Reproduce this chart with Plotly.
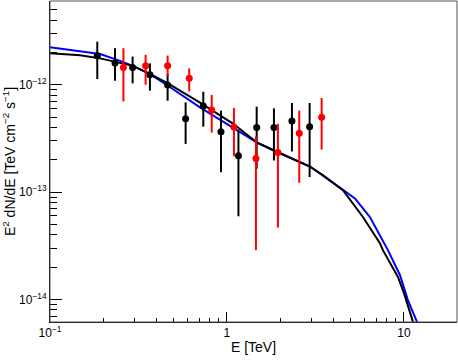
import plotly.graph_objects as go

# black data points: energy [TeV], E^2 dN/dE, upper and lower error bar ends
black_e = [0.185, 0.233, 0.293, 0.367, 0.462, 0.584, 0.735, 0.925, 1.161, 1.472, 1.843, 2.329, 2.932]
black_f = [1.86e-12, 1.59e-12, 1.45e-12, 1.24e-12, 9.94e-13, 4.83e-13, 6.34e-13, 3.64e-13,
           2.18e-13, 3.99e-13, 3.99e-13, 4.60e-13, 4.07e-13]
black_hi = [2.52e-12, 2.19e-12, 1.83e-12, 1.58e-12, 1.26e-12, 6.85e-13, 8.61e-13, 5.74e-13,
            3.80e-13, 6.25e-13, 6.02e-13, 6.76e-13, 6.76e-13]
black_lo = [1.13e-12, 1.09e-12, 1.03e-12, 8.80e-13, 7.10e-13, 2.81e-13, 4.07e-13, 1.53e-13,
            5.95e-14, 1.65e-13, 1.97e-13, 2.39e-13, 1.38e-13]

# red data points
red_e = [0.260, 0.347, 0.462, 0.612, 0.820, 1.095, 1.458, 1.941, 2.562, 3.428]
red_f = [1.45e-12, 1.50e-12, 1.50e-12, 1.15e-12, 5.82e-13, 4.05e-13, 2.06e-13, 2.34e-13,
         3.53e-13, 4.97e-13]
red_hi = [2.19e-12, 1.90e-12, 1.87e-12, 1.42e-12, 8.02e-13, 6.08e-13, 3.30e-13, 4.32e-13,
          5.74e-13, 7.52e-13]
red_lo = [6.99e-13, 1.00e-12, 1.21e-12, 8.67e-13, 3.58e-13, 2.16e-13, 2.88e-14, 4.67e-14,
          1.22e-13, 2.49e-13]

# model curves
black_curve_e = [0.1, 0.148, 0.192, 0.249, 0.294, 0.367, 0.464, 0.704, 1.081, 1.472, 1.843,
                 2.944, 3.486, 4.522, 5.867, 7.317, 7.609, 9.25, 10.0, 11.24, 11.6]
black_curve_f = [1.96e-12, 1.88e-12, 1.76e-12, 1.60e-12, 1.50e-12, 1.265e-12, 1.03e-12, 6.81e-13,
                 4.35e-13, 2.91e-13, 2.44e-13, 1.73e-13, 1.43e-13, 1.04e-13, 5.86e-14, 3.34e-14,
                 2.88e-14, 1.62e-14, 1.15e-14, 6.21e-15, 5.3e-15]
blue_curve_e = [0.1, 0.114, 0.148, 0.192, 0.249, 0.294, 0.367, 0.464, 0.704, 1.081, 1.472, 1.843,
                2.944, 3.486, 5.287, 6.426, 7.317, 8.121, 9.493, 10.53, 11.84, 12.2]
blue_curve_f = [2.24e-12, 2.17e-12, 2.07e-12, 1.93e-12, 1.67e-12, 1.50e-12, 1.257e-12, 9.79e-13,
                6.15e-13, 3.99e-13, 2.91e-13, 2.44e-13, 1.73e-13, 1.43e-13, 8.74e-14, 5.86e-14,
                3.96e-14, 2.88e-14, 1.69e-14, 9.87e-15, 6.21e-15, 5.3e-15]

x_tickvals = [0.1, 1, 10]
x_ticktext = ["10<sup>\u22121</sup>", "1", "10"]
y_tickvals = [1e-14, 1e-13, 1e-12]
y_ticktext = ["10<sup>\u221214</sup>", "10<sup>\u221213</sup>", "10<sup>\u221212</sup>"]

# minor ticks at 2..9 of each decade
x_minor = [m * d for d in (0.1, 1, 10) for m in range(2, 10)]
y_minor = [m * d for d in (1e-15, 1e-14, 1e-13, 1e-12) for m in range(2, 10)]


def err(f, hi, lo):
    plus = [h - v for h, v in zip(hi, f)]
    minus = [v - l for v, l in zip(f, lo)]
    return plus, minus


fig = go.Figure()

fig.add_trace(go.Scatter(x=blue_curve_e, y=blue_curve_f, mode="lines",
                         line=dict(color="#0000ff", width=2)))
fig.add_trace(go.Scatter(x=black_curve_e, y=black_curve_f, mode="lines",
                         line=dict(color="black", width=2)))

bp, bm = err(black_f, black_hi, black_lo)
fig.add_trace(go.Scatter(x=black_e, y=black_f, mode="markers",
                         marker=dict(color="black", size=7),
                         error_y=dict(type="data", symmetric=False, array=bp, arrayminus=bm,
                                      color="black", thickness=2, width=0)))
rp, rm = err(red_f, red_hi, red_lo)
fig.add_trace(go.Scatter(x=red_e, y=red_f, mode="markers",
                         marker=dict(color="#ff0000", size=7),
                         error_y=dict(type="data", symmetric=False, array=rp, arrayminus=rm,
                                      color="#ff0000", thickness=2, width=0)))

# frame around the plot area
fig.add_shape(type="rect", xref="paper", yref="paper", x0=0, y0=0, x1=1, y1=1,
              line=dict(color="#555555", width=1))

fig.update_layout(
    width=458, height=361,
    margin=dict(l=50, r=1, t=1, b=39),
    paper_bgcolor="white", plot_bgcolor="white",
    showlegend=False,
    hovermode=False,
    font=dict(family="Liberation Sans, Arial, sans-serif", size=12, color="black"),
)
fig.update_xaxes(
    type="log", range=[-1, 1.3], automargin=False,
    tickvals=x_tickvals, ticktext=x_ticktext,
    ticks="inside", ticklen=10, tickcolor="black",
    minor=dict(ticks="inside", ticklen=4, tickcolor="black", showgrid=False, tickvals=x_minor),
    showgrid=False, zeroline=False,
    showline=True, linecolor="black", linewidth=1,
    title=dict(text="E [TeV]", standoff=2),
)
fig.update_yaxes(
    type="log", range=[-14.21, -11.22], automargin=False,
    tickvals=y_tickvals, ticktext=y_ticktext,
    ticks="inside", ticklen=12, tickcolor="black",
    minor=dict(ticks="inside", ticklen=7, tickcolor="black", showgrid=False, tickvals=y_minor),
    showgrid=False, zeroline=False,
    showline=True, linecolor="black", linewidth=1,
    title=dict(text="E<sup>2</sup> dN/dE [TeV cm<sup>\u22122</sup> s<sup>\u22121</sup>]", standoff=2),
)

# the page body has a default margin; remove it so the figure sits at the window corner
fig.write_html("out.html", config={"displayModeBar": False},
               post_script="document.body.style.margin='0';")
